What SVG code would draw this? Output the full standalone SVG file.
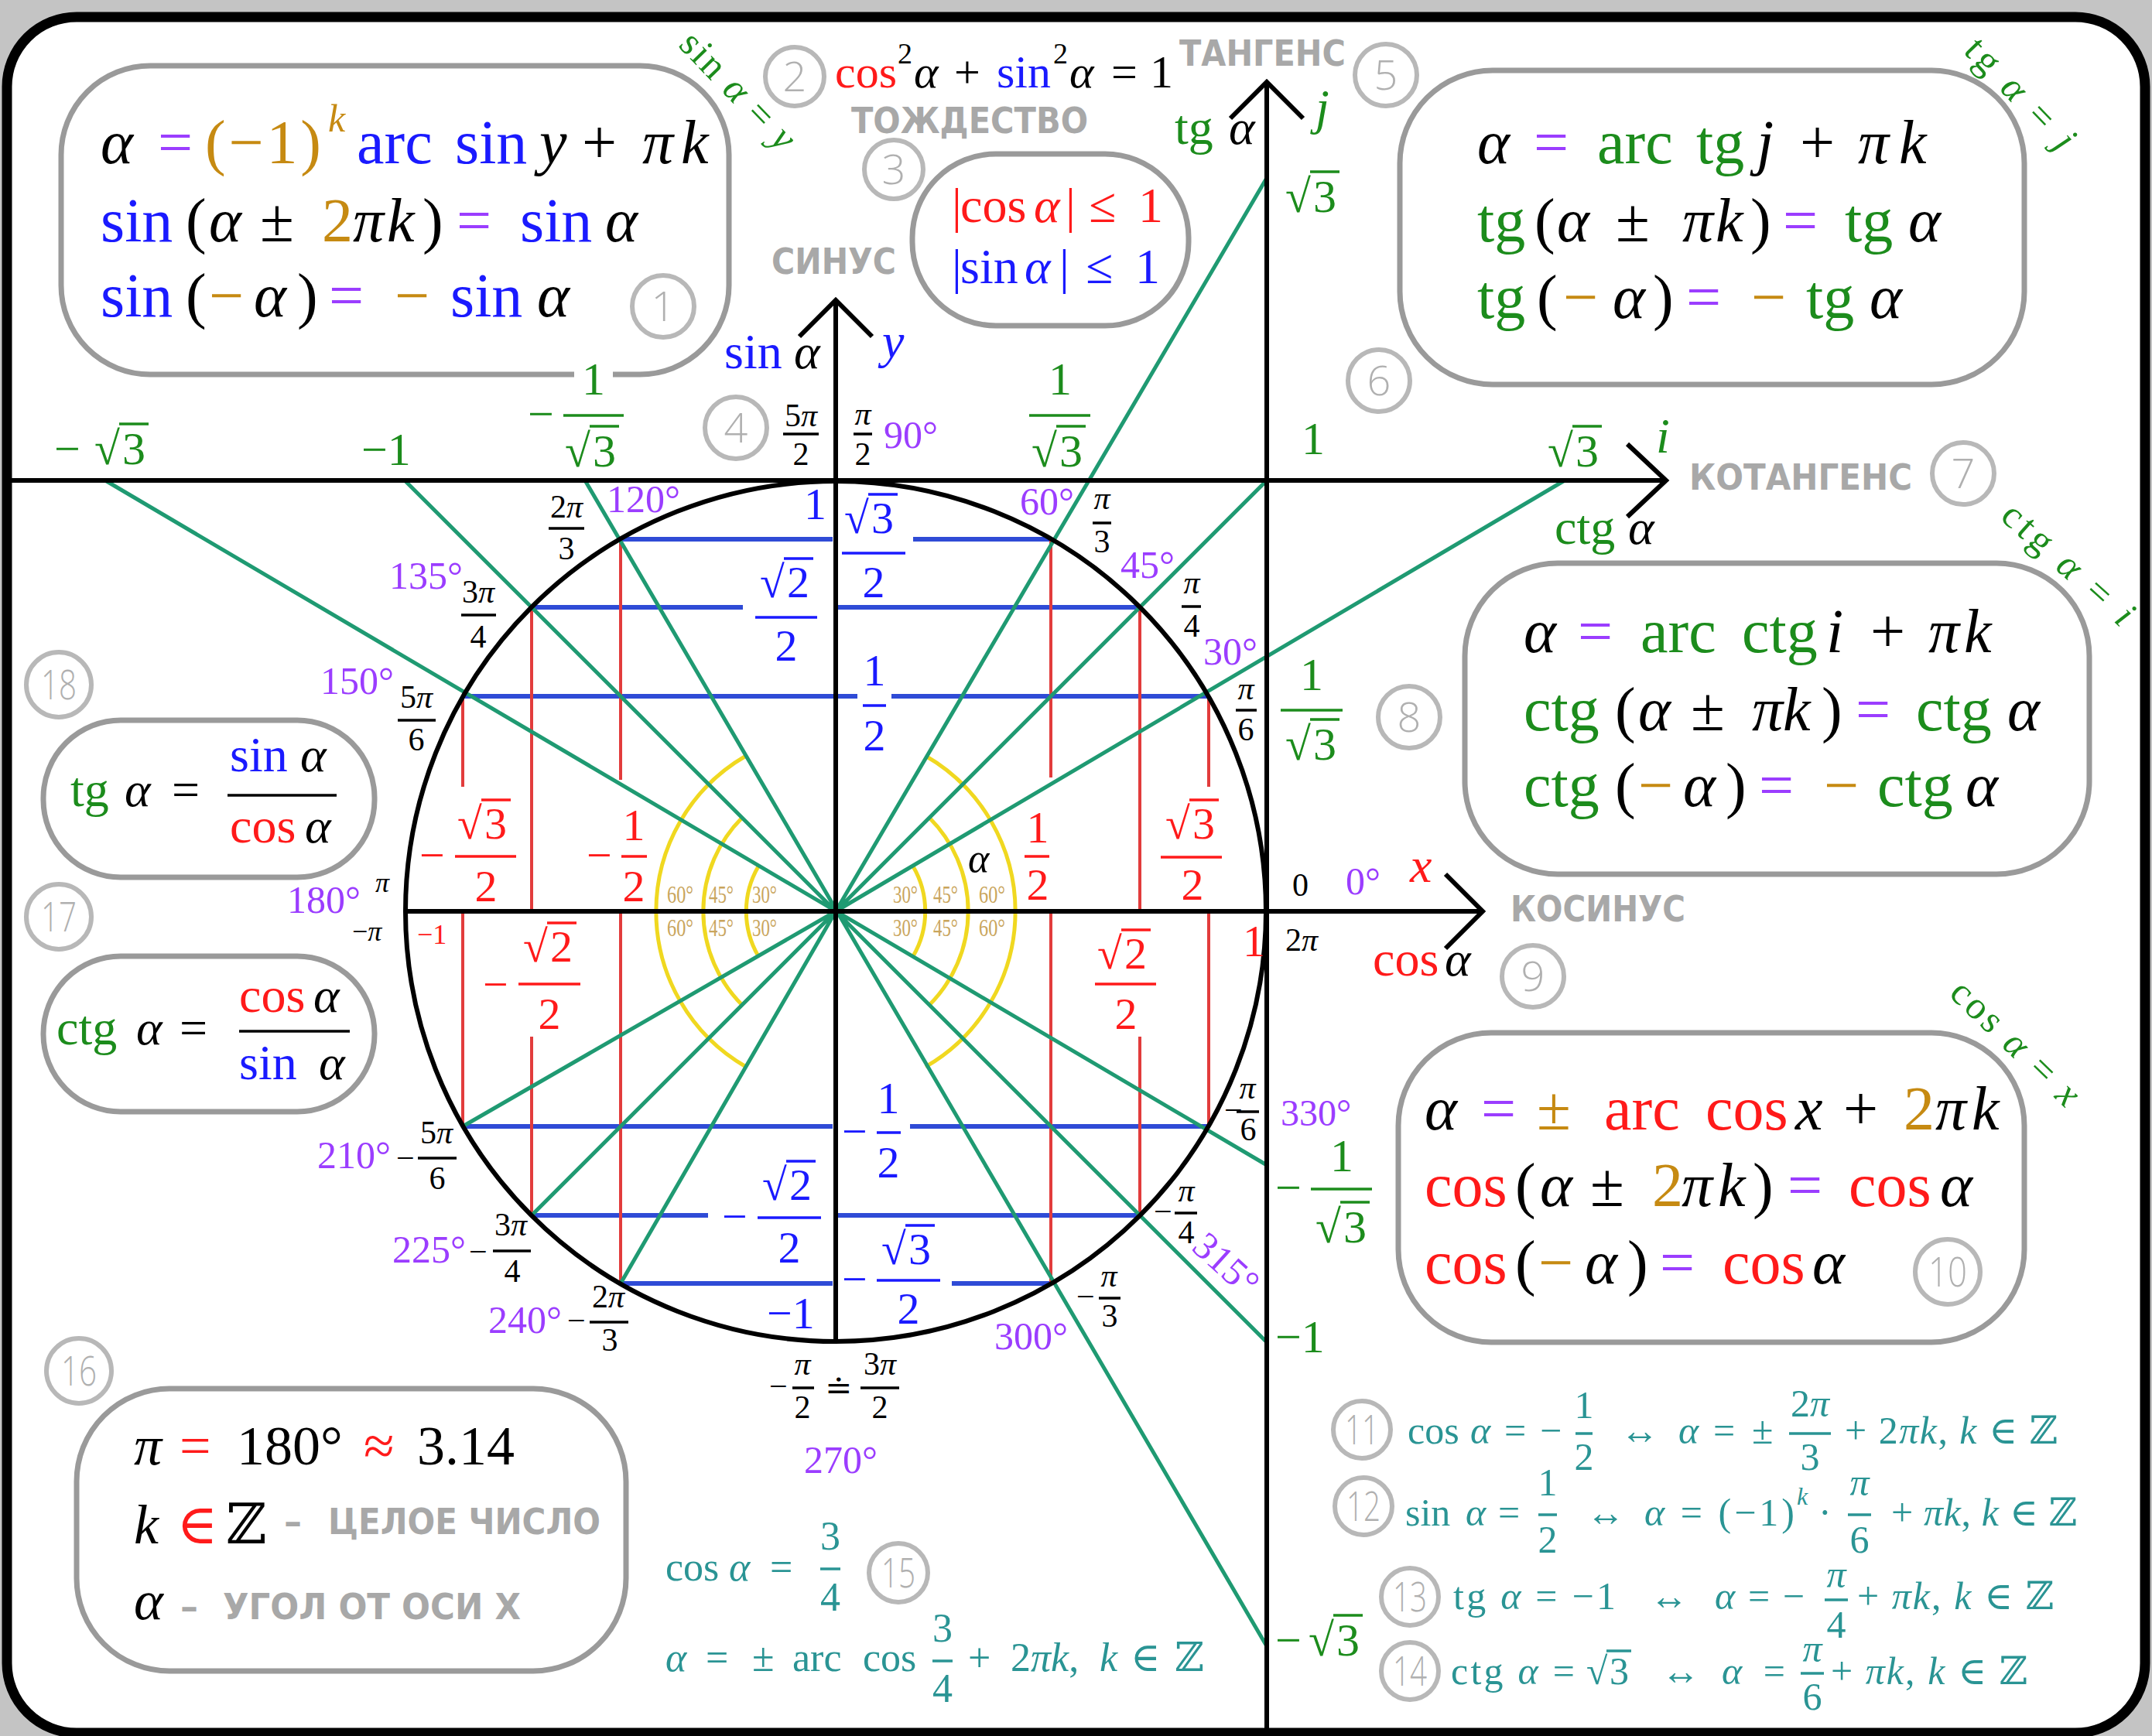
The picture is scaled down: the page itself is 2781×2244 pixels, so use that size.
<svg xmlns="http://www.w3.org/2000/svg" width="2781" height="2244" viewBox="0 0 2781 2244">
<style>
.t{font-family:"Liberation Serif","DejaVu Serif",serif}
.it{font-style:italic}
.k{fill:#000}.b{fill:#1a1aff}.r{fill:#ff1a1a}.g{fill:#1c8c1c}.p{fill:#9b3dff}.o{fill:#c68a12}.tl{fill:#2a9494}.sm{fill:#c9a55c}
.f80{font-size:80px}.f72{font-size:72px}.f64{font-size:64px}.f60{font-size:60px}.f58{font-size:58px}.f52{font-size:52px}.f50{font-size:50px}.f46{font-size:46px}.f42{font-size:42px}.f36{font-size:36px}
.box{fill:none;stroke:#9a9a9a;stroke-width:7}
.nc{fill:#fff;stroke:#b8b8b8;stroke-width:6}
.nt{font-family:"Open Sans","DejaVu Sans",sans-serif;font-weight:300;font-size:54px;fill:#b0b0b0;text-anchor:middle}
.lb{font-family:"DejaVu Sans",sans-serif;font-weight:bold;fill:#a8a8a8;font-size:46px}
.ax{fill:none;stroke:#000;stroke-width:6}
.gl{fill:none;stroke:#1f9a72;stroke-width:5}
.bl{fill:none;stroke:#2f4bd6;stroke-width:6}
.rl{fill:none;stroke:#e23c3c;stroke-width:4}
.yl{fill:none;stroke:#f0d820;stroke-width:5}
.fb{fill:none;stroke-width:3.5}
.mid{text-anchor:middle}
</style>
<rect width="2781" height="2244" fill="#c4c4c4"/>
<rect x="9" y="22" width="2763" height="2218" rx="90" fill="#fff" stroke="#000" stroke-width="13"/>

<g id="connectors">
 <g id="yellow-arcs">
  <path class="yl" d="M1196 977A232 232 0 0 1 1196 1379M964 977A232 232 0 0 0 964 1379"/>
  <path class="yl" d="M1201 1057A171 171 0 0 1 1201 1299M959 1057A171 171 0 0 0 959 1299"/>
  <path class="yl" d="M1180 1120A115 115 0 0 1 1180 1236M980 1120A115 115 0 0 0 980 1236"/>
 </g>
 <g id="sin-lines">
  <path class="bl" d="M802 697H1076M1180 697H1358M687 785H960M1082 785H1473M598 900H1108M1152 900H1562M598 1456H1076M1176 1456H1562M687 1571H915M1082 1571H1473M802 1659H1076M1230 1659H1358"/>
 </g>
 <g id="cos-lines">
  <path class="rl" d="M1358 697V1005M1358 1178V1659M1473 785V1178M1473 1340V1571M1562 900V1017M1562 1178V1456M802 697V1008M802 1178V1659M687 785V1178M687 1340V1571M598 900V1017M598 1178V1456"/>
 </g>
 <g id="tan-lines">
  <path class="gl" d="M1080 1178L2022 621M1080 1178L1637 621M1080 1178L1637 230M756 621L1637 2128M523 621L1637 1735M136 621L1637 1506M1080 1178L598 1456M1080 1178L687 1571M1080 1178L802 1659"/>
 </g>
 <g id="axes">
  <circle class="ax" cx="1080" cy="1178" r="556"/>
  <path class="ax" d="M15 621H2153M2103 574L2153 621L2103 668"/>
  <path class="ax" d="M1637 2244V106M1590 153L1637 106L1684 153"/>
  <path class="ax" d="M524 1178H1916M1868 1130L1916 1178L1868 1226"/>
  <path class="ax" d="M1080 1735V388M1033 435L1080 388L1127 435"/>
 </g>
</g>

<g id="box1">
 <rect class="box" x="79" y="85" width="863" height="399" rx="115"/>
 <text class="t f80" y="211"><tspan x="130" class="it">α</tspan><tspan x="204" class="p">=</tspan></text>
 <text class="t f80 o" x="265" y="211" textLength="150" lengthAdjust="spacing">(−1)</text>
 <text class="t f80" y="211"><tspan x="424" y="170" class="o it" style="font-size:50px">k</tspan><tspan x="461" y="211" class="b">arc</tspan><tspan x="588" class="b">sin</tspan><tspan x="697" class="it">y</tspan><tspan x="752">+</tspan><tspan x="830" class="it">π</tspan><tspan x="880" class="it">k</tspan></text>
 <text class="t f80" y="312"><tspan x="130" class="b">sin</tspan><tspan x="240">(</tspan><tspan x="270" class="it">α</tspan><tspan x="336">±</tspan><tspan x="416" class="o">2</tspan><tspan x="456" class="it">π</tspan><tspan x="500" class="it">k</tspan><tspan x="546">)</tspan><tspan x="590" class="p">=</tspan><tspan x="672" class="b">sin</tspan><tspan x="782" class="it">α</tspan></text>
 <text class="t f80" y="409"><tspan x="130" class="b">sin</tspan><tspan x="240">(</tspan><tspan x="270" class="o">−</tspan><tspan x="328" class="it">α</tspan><tspan x="384">)</tspan><tspan x="425" class="p">=</tspan><tspan x="510" class="o">−</tspan><tspan x="582" class="b">sin</tspan><tspan x="694" class="it">α</tspan></text>
</g>

<g id="identity">
 <text class="t f60" y="113"><tspan x="1079" class="r">cos</tspan><tspan x="1160" y="82" style="font-size:38px">2</tspan><tspan x="1181" y="113" class="it">α</tspan><tspan x="1233">+</tspan><tspan x="1288" class="b">sin</tspan><tspan x="1361" y="82" style="font-size:38px">2</tspan><tspan x="1382" y="113" class="it">α</tspan><tspan x="1436">=</tspan><tspan x="1486">1</tspan></text>
 <text class="lb" x="1100" y="172" textLength="306" lengthAdjust="spacingAndGlyphs">ТОЖДЕСТВО</text>
</g>

<g id="box3">
 <rect class="box" x="1179" y="199" width="357" height="222" rx="108"/>
 <text class="t f64 r" y="287"><tspan x="1230">|</tspan><tspan x="1241">cos</tspan><tspan x="1336" class="it">α</tspan><tspan x="1377">|</tspan><tspan x="1407">≤</tspan><tspan x="1471">1</tspan></text>
 <text class="t f64 b" y="366"><tspan x="1230">|</tspan><tspan x="1241">sin</tspan><tspan x="1324" class="it">α</tspan><tspan x="1369">|</tspan><tspan x="1403">≤</tspan><tspan x="1467">1</tspan></text>
</g>

<g id="box6">
 <rect class="box" x="1809" y="91" width="807" height="406" rx="120"/>
 <text class="t f80" y="211"><tspan x="1909" class="it">α</tspan><tspan x="1982" class="p">=</tspan><tspan x="2064" class="g">arc</tspan><tspan x="2192" class="g">tg</tspan><tspan x="2270" class="it">j</tspan><tspan x="2326">+</tspan><tspan x="2401" class="it">π</tspan><tspan x="2454" class="it">k</tspan></text>
 <text class="t f80" y="312"><tspan x="1909" class="g">tg</tspan><tspan x="1983">(</tspan><tspan x="2012" class="it">α</tspan><tspan x="2088">±</tspan><tspan x="2174" class="it">π</tspan><tspan x="2217" class="it">k</tspan><tspan x="2262">)</tspan><tspan x="2304" class="p">=</tspan><tspan x="2384" class="g">tg</tspan><tspan x="2466" class="it">α</tspan></text>
 <text class="t f80" y="411"><tspan x="1909" class="g">tg</tspan><tspan x="1986">(</tspan><tspan x="2020" class="o">−</tspan><tspan x="2084" class="it">α</tspan><tspan x="2136">)</tspan><tspan x="2179" class="p">=</tspan><tspan x="2263" class="o">−</tspan><tspan x="2334" class="g">tg</tspan><tspan x="2416" class="it">α</tspan></text>
</g>

<g id="box8">
 <rect class="box" x="1893" y="728" width="807" height="402" rx="120"/>
 <text class="t f80" y="843"><tspan x="1969" class="it">α</tspan><tspan x="2039" class="p">=</tspan><tspan x="2120" class="g">arc</tspan><tspan x="2251" class="g">ctg</tspan><tspan x="2360" class="it">i</tspan><tspan x="2417">+</tspan><tspan x="2492" class="it">π</tspan><tspan x="2538" class="it">k</tspan></text>
 <text class="t f80" y="944"><tspan x="1969" class="g">ctg</tspan><tspan x="2087">(</tspan><tspan x="2117" class="it">α</tspan><tspan x="2185">±</tspan><tspan x="2264" class="it">π</tspan><tspan x="2304" class="it">k</tspan><tspan x="2354">)</tspan><tspan x="2398" class="p">=</tspan><tspan x="2476" class="g">ctg</tspan><tspan x="2594" class="it">α</tspan></text>
 <text class="t f80" y="1042"><tspan x="1969" class="g">ctg</tspan><tspan x="2087">(</tspan><tspan x="2117" class="o">−</tspan><tspan x="2175" class="it">α</tspan><tspan x="2230">)</tspan><tspan x="2273" class="p">=</tspan><tspan x="2357" class="o">−</tspan><tspan x="2426" class="g">ctg</tspan><tspan x="2540" class="it">α</tspan></text>
</g>

<g id="box10">
 <rect class="box" x="1807" y="1335" width="809" height="400" rx="120"/>
 <text class="t f80" y="1460"><tspan x="1841" class="it">α</tspan><tspan x="1914" class="p">=</tspan><tspan x="1986" class="o">±</tspan><tspan x="2073" class="r">arc</tspan><tspan x="2204" class="r">cos</tspan><tspan x="2320" class="it">x</tspan><tspan x="2382">+</tspan><tspan x="2460" class="o">2</tspan><tspan x="2501" class="it">π</tspan><tspan x="2548" class="it">k</tspan></text>
 <text class="t f80" y="1559"><tspan x="1841" class="r">cos</tspan><tspan x="1958">(</tspan><tspan x="1990" class="it">α</tspan><tspan x="2055">±</tspan><tspan x="2135" class="o">2</tspan><tspan x="2173" class="it">π</tspan><tspan x="2220" class="it">k</tspan><tspan x="2265">)</tspan><tspan x="2310" class="p">=</tspan><tspan x="2389" class="r">cos</tspan><tspan x="2507" class="it">α</tspan></text>
 <text class="t f80" y="1659"><tspan x="1841" class="r">cos</tspan><tspan x="1958">(</tspan><tspan x="1988" class="o">−</tspan><tspan x="2048" class="it">α</tspan><tspan x="2103">)</tspan><tspan x="2145" class="p">=</tspan><tspan x="2226" class="r">cos</tspan><tspan x="2342" class="it">α</tspan></text>
</g>

<g id="box18">
 <rect class="box" x="56" y="931" width="428" height="203" rx="100"/>
 <text class="t f64" y="1042"><tspan x="91" class="g">tg</tspan><tspan x="161" class="it">α</tspan><tspan x="222">=</tspan></text>
 <text class="t f64" y="997"><tspan x="297" class="b">sin</tspan><tspan x="388" class="it">α</tspan></text>
 <path class="fb" stroke="#000" d="M294 1028H435"/>
 <text class="t f64" y="1089"><tspan x="297" class="r">cos</tspan><tspan x="394" class="it">α</tspan></text>
</g>

<g id="box17">
 <rect class="box" x="56" y="1236" width="428" height="201" rx="100"/>
 <text class="t f64" y="1350"><tspan x="73" class="g">ctg</tspan><tspan x="176" class="it">α</tspan><tspan x="232">=</tspan></text>
 <text class="t f64" y="1308"><tspan x="309" class="r">cos</tspan><tspan x="405" class="it">α</tspan></text>
 <path class="fb" stroke="#000" d="M309 1333H452"/>
 <text class="t f64" y="1395"><tspan x="309" class="b">sin</tspan><tspan x="412" class="it">α</tspan></text>
</g>

<g id="box16">
 <rect class="box" x="99" y="1795" width="710" height="365" rx="120"/>
 <text class="t f72" y="1893"><tspan x="173" class="it">π</tspan><tspan x="232" class="r">=</tspan><tspan x="306">180°</tspan><tspan x="470" class="r">≈</tspan><tspan x="539">3.14</tspan></text>
 <text class="t f72" y="1995"><tspan x="173" class="it">k</tspan><tspan x="228" class="r">∈</tspan><tspan x="292">ℤ</tspan></text>
 <text class="lb" x="367" y="1983">–</text>
 <text class="lb" x="424" y="1983" textLength="352" lengthAdjust="spacingAndGlyphs">ЦЕЛОЕ ЧИСЛО</text>
 <text class="t f72 it" x="173" y="2093">α</text>
 <text class="lb" x="233" y="2093">–</text>
 <text class="lb" x="288" y="2093" textLength="385" lengthAdjust="spacingAndGlyphs">УГОЛ ОТ ОСИ Х</text>
</g>

<g id="axis-names">
 <text class="lb" x="997" y="354" textLength="161" lengthAdjust="spacingAndGlyphs">СИНУС</text>
 <text class="lb" x="1524" y="85" textLength="215" lengthAdjust="spacingAndGlyphs">ТАНГЕНС</text>
 <text class="lb" x="2183" y="633" textLength="288" lengthAdjust="spacingAndGlyphs">КОТАНГЕНС</text>
 <text class="lb" x="1952" y="1191" textLength="226" lengthAdjust="spacingAndGlyphs">КОСИНУС</text>
 <text class="t f64" y="476"><tspan x="936" class="b">sin</tspan><tspan x="1026" class="it">α</tspan></text>
 <text class="t f64 b it" x="1140" y="462">y</text>
 <text class="t f64" y="186"><tspan x="1518" class="g">tg</tspan><tspan x="1588" class="it">α</tspan></text>
 <text class="t f64 g it" x="1700" y="160">j</text>
 <text class="t f64" y="703"><tspan x="2009" class="g">ctg</tspan><tspan x="2104" class="it">α</tspan></text>
 <text class="t f64 g it" x="2140" y="585">i</text>
 <text class="t f64" y="1261"><tspan x="1774" class="r">cos</tspan><tspan x="1867" class="it">α</tspan></text>
 <text class="t f64 r it" x="1822" y="1140">x</text>
 <text class="t f52 it" x="1251" y="1127">α</text>
</g>

<g id="rotated-labels" class="t g" style="font-size:50px">
 <text class="mid" transform="translate(953 118) rotate(46)" y="15" textLength="192" lengthAdjust="spacing">sin <tspan class="it">α</tspan> = <tspan class="it">y</tspan></text>
 <text class="mid" transform="translate(2610 122) rotate(46)" y="15" textLength="182" lengthAdjust="spacing">tg <tspan class="it">α</tspan> = <tspan class="it">j</tspan></text>
 <text class="mid" transform="translate(2672 730) rotate(42)" y="15" textLength="212" lengthAdjust="spacing">ctg <tspan class="it">α</tspan> = <tspan class="it">i</tspan></text>
 <text class="mid" transform="translate(2604 1349) rotate(44)" y="15" textLength="212" lengthAdjust="spacing">cos <tspan class="it">α</tspan> = <tspan class="it">x</tspan></text>
</g>

<g id="cot-values" class="t f60 g">
 <text x="70" y="600">−</text><text x="122" y="600">√</text><text x="158" y="600">3</text><path class="fb" stroke="#1c8c1c" d="M154 548H192"/>
 <text x="467" y="601">−1</text>
 <rect x="742" y="472" width="50" height="20" fill="#fff"/>
 <text x="682" y="555">−</text><text class="mid" x="767" y="510">1</text><path class="fb" stroke="#1c8c1c" d="M728 537H806"/>
 <text x="730" y="603">√</text><text x="766" y="603">3</text><path class="fb" stroke="#1c8c1c" d="M762 551H800"/>
 <text class="mid" x="1370" y="510">1</text><path class="fb" stroke="#1c8c1c" d="M1330 537H1409"/>
 <text x="1333" y="603">√</text><text x="1369" y="603">3</text><path class="fb" stroke="#1c8c1c" d="M1365 551H1403"/>
 <text x="2000" y="603">√</text><text x="2036" y="603">3</text><path class="fb" stroke="#1c8c1c" d="M2032 551H2070"/>
</g>

<g id="tan-values" class="t f60 g">
 <text x="1661" y="274">√</text><text x="1697" y="274">3</text><path class="fb" stroke="#1c8c1c" d="M1693 222H1731"/>
 <text x="1682" y="587">1</text>
 <text class="mid" x="1695" y="892">1</text><path class="fb" stroke="#1c8c1c" d="M1655 918H1735"/>
 <text x="1661" y="982">√</text><text x="1697" y="982">3</text><path class="fb" stroke="#1c8c1c" d="M1693 930H1731"/>
 <text x="1648" y="1555">−</text><text class="mid" x="1734" y="1514">1</text><path class="fb" stroke="#1c8c1c" d="M1694 1537H1773"/>
 <text x="1700" y="1606">√</text><text x="1736" y="1606">3</text><path class="fb" stroke="#1c8c1c" d="M1732 1554H1770"/>
 <text x="1648" y="1748">−1</text>
 <text x="1648" y="2140">−</text><text x="1691" y="2140">√</text><text x="1727" y="2140">3</text><path class="fb" stroke="#1c8c1c" d="M1723 2088H1761"/>
</g>

<g id="sin-values" class="t f58 b">
 <text x="1039" y="671">1</text>
 <text x="1091" y="689">√</text><text x="1126" y="689">3</text><path class="fb" stroke="#1a1aff" d="M1122 639H1160"/>
 <path class="fb" stroke="#1a1aff" d="M1088 715H1170"/><text class="mid" x="1129" y="772">2</text>
 <text x="982" y="772">√</text><text x="1017" y="772">2</text><path class="fb" stroke="#1a1aff" d="M1013 722H1051"/>
 <path class="fb" stroke="#1a1aff" d="M976 798H1056"/><text class="mid" x="1016" y="854">2</text>
 <text class="mid" x="1130" y="886">1</text><path class="fb" stroke="#1a1aff" d="M1115 912H1145"/><text class="mid" x="1130" y="970">2</text>
 <text x="1088" y="1482">−</text><text class="mid" x="1148" y="1439">1</text><path class="fb" stroke="#1a1aff" d="M1133 1464H1164"/><text class="mid" x="1148" y="1522">2</text>
 <text x="933" y="1592">−</text><text x="985" y="1551">√</text><text x="1020" y="1551">2</text><path class="fb" stroke="#1a1aff" d="M1016 1501H1054"/>
 <path class="fb" stroke="#1a1aff" d="M979 1574H1061"/><text class="mid" x="1020" y="1632">2</text>
 <text x="1088" y="1673">−</text><text x="1139" y="1634">√</text><text x="1174" y="1634">3</text><path class="fb" stroke="#1a1aff" d="M1170 1584H1208"/>
 <path class="fb" stroke="#1a1aff" d="M1133 1655H1215"/><text class="mid" x="1174" y="1711">2</text>
 <text x="991" y="1717">−1</text>
</g>

<g id="cos-values" class="t f58 r">
 <text class="mid" x="1341" y="1089">1</text><path class="fb" stroke="#ff1a1a" d="M1324 1107H1356"/><text class="mid" x="1341" y="1163">2</text>
 <text x="1506" y="1084">√</text><text x="1541" y="1084">3</text><path class="fb" stroke="#ff1a1a" d="M1537 1034H1575"/>
 <path class="fb" stroke="#ff1a1a" d="M1500 1108H1579"/><text class="mid" x="1541" y="1163">2</text>
 <text x="758" y="1125">−</text><text class="mid" x="819" y="1086">1</text><path class="fb" stroke="#ff1a1a" d="M803 1107H836"/><text class="mid" x="819" y="1165">2</text>
 <text x="542" y="1125">−</text><text x="591" y="1084">√</text><text x="626" y="1084">3</text><path class="fb" stroke="#ff1a1a" d="M622 1034H660"/>
 <path class="fb" stroke="#ff1a1a" d="M588 1107H667"/><text class="mid" x="628" y="1165">2</text>
 <text x="624" y="1292">−</text><text x="676" y="1243">√</text><text x="711" y="1243">2</text><path class="fb" stroke="#ff1a1a" d="M707 1193H745"/>
 <path class="fb" stroke="#ff1a1a" d="M670 1272H750"/><text class="mid" x="710" y="1330">2</text>
 <text x="1418" y="1252">√</text><text x="1453" y="1252">2</text><path class="fb" stroke="#ff1a1a" d="M1449 1202H1487"/>
 <path class="fb" stroke="#ff1a1a" d="M1415 1272H1494"/><text class="mid" x="1455" y="1330">2</text>
 <text x="1606" y="1236">1</text>
 <text class="f36" x="539" y="1220">−1</text>
</g>

<g id="degrees" class="t f50 p">
 <text x="1142" y="579">90°</text>
 <text x="784" y="662">120°</text>
 <text x="503" y="761">135°</text>
 <text x="414" y="897">150°</text>
 <text x="371" y="1180">180°</text>
 <text x="1318" y="665">60°</text>
 <text x="1448" y="747">45°</text>
 <text x="1555" y="859">30°</text>
 <text x="1739" y="1156">0°</text>
 <text x="1655" y="1455" style="font-size:48px">330°</text>
 <text class="mid" transform="translate(1585 1634) rotate(42)" y="17">315°</text>
 <text x="1285" y="1744">300°</text>
 <text x="1039" y="1904">270°</text>
 <text x="410" y="1510">210°</text>
 <text x="507" y="1632">225°</text>
 <text x="631" y="1723">240°</text>
</g>

<g id="small-angles" class="t sm" style="font-size:32px">
 <text class="mid" x="1170" y="1167" textLength="32" lengthAdjust="spacingAndGlyphs">30°</text>
 <text class="mid" x="1222" y="1167" textLength="32" lengthAdjust="spacingAndGlyphs">45°</text>
 <text class="mid" x="1282" y="1167" textLength="34" lengthAdjust="spacingAndGlyphs">60°</text>
 <text class="mid" x="1170" y="1210" textLength="32" lengthAdjust="spacingAndGlyphs">30°</text>
 <text class="mid" x="1222" y="1210" textLength="32" lengthAdjust="spacingAndGlyphs">45°</text>
 <text class="mid" x="1282" y="1210" textLength="34" lengthAdjust="spacingAndGlyphs">60°</text>
 <text class="mid" x="988" y="1167" textLength="32" lengthAdjust="spacingAndGlyphs">30°</text>
 <text class="mid" x="932" y="1167" textLength="32" lengthAdjust="spacingAndGlyphs">45°</text>
 <text class="mid" x="879" y="1167" textLength="34" lengthAdjust="spacingAndGlyphs">60°</text>
 <text class="mid" x="988" y="1210" textLength="32" lengthAdjust="spacingAndGlyphs">30°</text>
 <text class="mid" x="932" y="1210" textLength="32" lengthAdjust="spacingAndGlyphs">45°</text>
 <text class="mid" x="879" y="1210" textLength="34" lengthAdjust="spacingAndGlyphs">60°</text>
</g>

<g id="radians" class="t f42 k">
 <text class="mid" x="1035" y="551">5<tspan class="it">π</tspan></text><path class="fb" stroke="#000" d="M1012 561H1058"/><text class="mid" x="1035" y="601">2</text>
 <text class="mid it" x="1115" y="549">π</text><path class="fb" stroke="#000" d="M1103 561H1127"/><text class="mid" x="1115" y="601">2</text>
 <text class="mid" x="732" y="669">2<tspan class="it">π</tspan></text><path class="fb" stroke="#000" d="M709 683H755"/><text class="mid" x="732" y="723">3</text>
 <text class="mid" x="618" y="779">3<tspan class="it">π</tspan></text><path class="fb" stroke="#000" d="M596 795H641"/><text class="mid" x="618" y="837">4</text>
 <text class="mid" x="538" y="915">5<tspan class="it">π</tspan></text><path class="fb" stroke="#000" d="M514 931H563"/><text class="mid" x="538" y="970">6</text>
 <text class="f36 it" x="485" y="1153">π</text>
 <text class="f36" x="455" y="1216">−<tspan class="it">π</tspan></text>
 <text class="mid it" x="1424" y="658">π</text><path class="fb" stroke="#000" d="M1412 676H1436"/><text class="mid" x="1424" y="714">3</text>
 <text class="mid it" x="1540" y="767">π</text><path class="fb" stroke="#000" d="M1527 784H1552"/><text class="mid" x="1540" y="823">4</text>
 <text class="mid it" x="1610" y="904">π</text><path class="fb" stroke="#000" d="M1597 918H1624"/><text class="mid" x="1610" y="957">6</text>
 <text x="1670" y="1158">0</text>
 <text x="1661" y="1229">2<tspan class="it">π</tspan></text>
 <text x="1582" y="1449">−</text><text class="mid it" x="1612" y="1420">π</text><path class="fb" stroke="#000" d="M1598 1437H1627"/><text class="mid" x="1613" y="1474">6</text>
 <text x="1491" y="1580">−</text><text class="mid it" x="1533" y="1553">π</text><path class="fb" stroke="#000" d="M1518 1568H1547"/><text class="mid" x="1533" y="1607">4</text>
 <text x="1391" y="1690">−</text><text class="mid it" x="1433" y="1663">π</text><path class="fb" stroke="#000" d="M1420 1678H1448"/><text class="mid" x="1434" y="1715">3</text>
 <text x="994" y="1806">−</text><text class="mid it" x="1037" y="1777">π</text><path class="fb" stroke="#000" d="M1024 1794H1052"/><text class="mid" x="1037" y="1833">2</text>
 <text x="1066" y="1808">≐</text>
 <text class="mid" x="1137" y="1777">3<tspan class="it">π</tspan></text><path class="fb" stroke="#000" d="M1112 1794H1162"/><text class="mid" x="1137" y="1833">2</text>
 <text x="512" y="1511">−</text><text class="mid" x="564" y="1478">5<tspan class="it">π</tspan></text><path class="fb" stroke="#000" d="M540 1497H590"/><text class="mid" x="565" y="1537">6</text>
 <text x="606" y="1632">−</text><text class="mid" x="660" y="1597">3<tspan class="it">π</tspan></text><path class="fb" stroke="#000" d="M637 1617H686"/><text class="mid" x="662" y="1657">4</text>
 <text x="733" y="1721">−</text><text class="mid" x="786" y="1690">2<tspan class="it">π</tspan></text><path class="fb" stroke="#000" d="M762 1709H812"/><text class="mid" x="788" y="1746">3</text>
</g>

<g id="f15" class="t f52 tl">
 <text y="2043"><tspan x="860">cos</tspan><tspan x="942" class="it">α</tspan><tspan x="995">=</tspan></text>
 <text class="mid" x="1073" y="2003">3</text><path class="fb" stroke="#2a9494" d="M1060 2028H1086"/><text class="mid" x="1073" y="2082">4</text>
 <text y="2160"><tspan x="860" class="it">α</tspan><tspan x="912">=</tspan><tspan x="972">±</tspan><tspan x="1024">arc</tspan><tspan x="1115">cos</tspan><tspan x="1251">+</tspan><tspan x="1306">2</tspan><tspan class="it">πk</tspan>,<tspan x="1421" class="it">k</tspan><tspan x="1461">∈</tspan><tspan x="1518">ℤ</tspan></text>
 <text class="mid" x="1218" y="2122">3</text><path class="fb" stroke="#2a9494" d="M1205 2147H1231"/><text class="mid" x="1218" y="2200">4</text>
</g>

<g id="f11" class="t f50 tl">
 <text y="1866"><tspan x="1819">cos</tspan><tspan x="1900" class="it">α</tspan><tspan x="1944">=</tspan><tspan x="1990">−</tspan><tspan x="2094">↔</tspan><tspan x="2169" class="it">α</tspan><tspan x="2214">=</tspan><tspan x="2264">±</tspan></text>
 <text class="mid" x="2047" y="1833">1</text><path class="fb" stroke="#2a9494" d="M2036 1853H2058"/><text class="mid" x="2047" y="1900">2</text>
 <text class="mid" x="2339" y="1831">2<tspan class="it">π</tspan></text><path class="fb" stroke="#2a9494" d="M2312 1853H2366"/><text class="mid" x="2339" y="1900">3</text>
 <text x="2384" y="1866" textLength="275" lengthAdjust="spacing">+ 2<tspan class="it">πk</tspan>, <tspan class="it">k</tspan> ∈ ℤ</text>
</g>

<g id="f12" class="t f50 tl">
 <text y="1972"><tspan x="1816">sin</tspan><tspan x="1894" class="it">α</tspan><tspan x="1936">=</tspan><tspan x="2050">↔</tspan></text>
 <text class="mid" x="2000" y="1933">1</text><path class="fb" stroke="#2a9494" d="M1988 1958H2012"/><text class="mid" x="2000" y="2007">2</text>
 <text x="2125" y="1972" textLength="194" lengthAdjust="spacing"><tspan class="it">α</tspan> = (−1)</text>
 <text class="it" x="2322" y="1945" style="font-size:32px">k</text>
 <text x="2350" y="1972">·</text>
 <text class="mid it" x="2403" y="1933">π</text><path class="fb" stroke="#2a9494" d="M2388 1958H2418"/><text class="mid" x="2403" y="2007">6</text>
 <text x="2444" y="1972" textLength="240" lengthAdjust="spacing">+ <tspan class="it">πk</tspan>, <tspan class="it">k</tspan> ∈ ℤ</text>
</g>

<g id="f13" class="t f50 tl">
 <text x="1878" y="2080" textLength="210" lengthAdjust="spacing">tg <tspan class="it">α</tspan> = −1</text>
 <text x="2132" y="2080">↔</text>
 <text x="2216" y="2080" textLength="116" lengthAdjust="spacing"><tspan class="it">α</tspan> = −</text>
 <text class="mid it" x="2373" y="2052">π</text><path class="fb" stroke="#2a9494" d="M2358 2068H2388"/><text class="mid" x="2373" y="2117">4</text>
 <text x="2400" y="2080" textLength="254" lengthAdjust="spacing">+ <tspan class="it">πk</tspan>, <tspan class="it">k</tspan> ∈ ℤ</text>
</g>

<g id="f14" class="t f50 tl">
 <text x="1875" y="2177" textLength="160" lengthAdjust="spacing">ctg <tspan class="it">α</tspan> =</text>
 <text x="2050" y="2177">√</text><text x="2080" y="2177">3</text><path class="fb" stroke="#2a9494" d="M2076 2134H2108"/>
 <text x="2147" y="2177">↔</text>
 <text x="2225" y="2177" textLength="82" lengthAdjust="spacing"><tspan class="it">α</tspan> =</text>
 <text class="mid it" x="2342" y="2148">π</text><path class="fb" stroke="#2a9494" d="M2327 2163H2357"/><text class="mid" x="2342" y="2210">6</text>
 <text x="2366" y="2177" textLength="254" lengthAdjust="spacing">+ <tspan class="it">πk</tspan>, <tspan class="it">k</tspan> ∈ ℤ</text>
</g>

<g id="numbers">
 <g id="n1"><circle class="nc" cx="857" cy="396" r="40"/><text class="nt" x="857" y="415">1</text></g>
 <g id="n2"><circle class="nc" cx="1027" cy="99" r="38"/><text class="nt" x="1027" y="118">2</text></g>
 <g id="n3"><circle class="nc" cx="1155" cy="219" r="38"/><text class="nt" x="1155" y="238">3</text></g>
 <g id="n4"><circle class="nc" cx="951" cy="553" r="40"/><text class="nt" x="951" y="572">4</text></g>
 <g id="n5"><circle class="nc" cx="1791" cy="97" r="40"/><text class="nt" x="1791" y="116">5</text></g>
 <g id="n6"><circle class="nc" cx="1782" cy="492" r="40"/><text class="nt" x="1782" y="511">6</text></g>
 <g id="n7"><circle class="nc" cx="2537" cy="612" r="40"/><text class="nt" x="2537" y="631">7</text></g>
 <g id="n8"><circle class="nc" cx="1821" cy="927" r="40"/><text class="nt" x="1821" y="946">8</text></g>
 <g id="n9"><circle class="nc" cx="1981" cy="1262" r="40"/><text class="nt" x="1981" y="1281">9</text></g>
 <g id="n10"><circle class="nc" cx="2517" cy="1644" r="42"/><text class="nt" x="2517" y="1663" textLength="50" lengthAdjust="spacingAndGlyphs">10</text></g>
 <g id="n11"><circle class="nc" cx="1760" cy="1848" r="37"/><text class="nt" x="1760" y="1867" textLength="44" lengthAdjust="spacingAndGlyphs">11</text></g>
 <g id="n12"><circle class="nc" cx="1762" cy="1947" r="37"/><text class="nt" x="1762" y="1966" textLength="44" lengthAdjust="spacingAndGlyphs">12</text></g>
 <g id="n13"><circle class="nc" cx="1822" cy="2064" r="37"/><text class="nt" x="1822" y="2083" textLength="44" lengthAdjust="spacingAndGlyphs">13</text></g>
 <g id="n14"><circle class="nc" cx="1822" cy="2160" r="37"/><text class="nt" x="1822" y="2179" textLength="44" lengthAdjust="spacingAndGlyphs">14</text></g>
 <g id="n15"><circle class="nc" cx="1161" cy="2033" r="38"/><text class="nt" x="1161" y="2052" textLength="44" lengthAdjust="spacingAndGlyphs">15</text></g>
 <g id="n16"><circle class="nc" cx="102" cy="1772" r="42"/><text class="nt" x="102" y="1791" textLength="46" lengthAdjust="spacingAndGlyphs">16</text></g>
 <g id="n17"><circle class="nc" cx="76" cy="1185" r="42"/><text class="nt" x="76" y="1204" textLength="46" lengthAdjust="spacingAndGlyphs">17</text></g>
 <g id="n18"><circle class="nc" cx="76" cy="885" r="42"/><text class="nt" x="76" y="904" textLength="46" lengthAdjust="spacingAndGlyphs">18</text></g>
</g>
</svg>
